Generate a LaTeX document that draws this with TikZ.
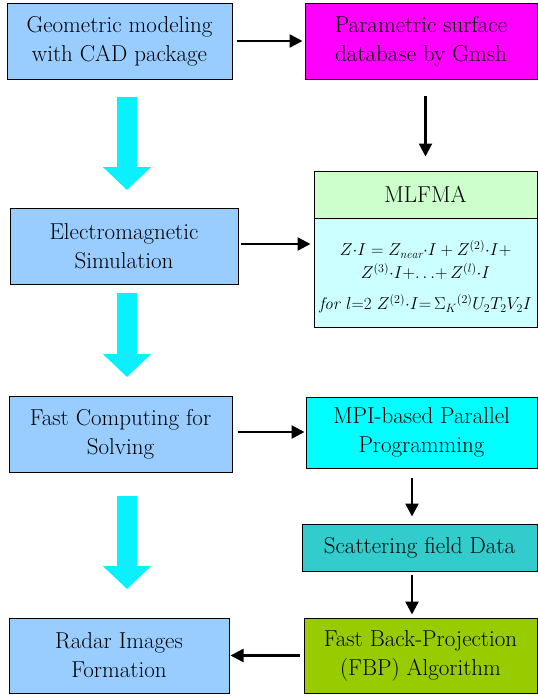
\documentclass[tikz,border=0pt]{standalone}
\usepackage{fontspec}
\usetikzlibrary{arrows.meta}
\definecolor{lblue}{RGB}{153,204,255}
\definecolor{magbox}{RGB}{255,0,255}
\definecolor{mlgreen}{RGB}{204,255,204}
\definecolor{mlcyan}{RGB}{204,255,255}
\definecolor{mpicyan}{RGB}{0,255,255}
\definecolor{scatteal}{RGB}{51,204,204}
\definecolor{fbpgreen}{RGB}{153,204,0}
\definecolor{arrowcyan}{RGB}{10,240,255}
\begin{document}
\begin{tikzpicture}[x=1pt,y=-1pt,
  box/.style={draw=black, line width=1pt, align=center, inner sep=0pt,
    font=\fontsize{23}{29}\selectfont, text=black},
  conn/.style={line width=2.4pt, -{Triangle[length=13pt,width=13pt]}},
  bigarrow/.style={line width=20pt, draw=arrowcyan, -{Triangle[length=23pt,width=47pt]}}]
\useasboundingbox (0,0) rectangle (538,697);

\node[box, fill=lblue, minimum width=225pt, minimum height=76pt] (geo) at (119.5,41) {Geometric modeling\\with CAD package};
\node[box, fill=magbox, minimum width=232pt, minimum height=76pt] (param) at (421,41) {Parametric surface\\database by Gmsh};
\node[box, fill=lblue, minimum width=228pt, minimum height=76pt] (em) at (124,246) {Electromagnetic\\Simulation};
\node[box, fill=mlgreen, minimum width=223pt, minimum height=47pt] (mlT) at (425.5,194.5) {MLFMA};
\node[box, fill=mlcyan, minimum width=223pt, minimum height=109pt] (mlB) at (425.5,272.5) {};
\node[font=\fontsize{17}{23}\selectfont, align=center, inner sep=0pt] (eq) at (425.5,277)
  {$Z{\cdot}I = Z_{\mathit{near}}{\cdot}I + Z^{(2)}{\cdot}I{+}$\\
   $Z^{(3)}{\cdot}I{+}{\ldots}{+}\, Z^{(l)}{\cdot}I$\\[8pt]
   \textit{for} $l$=2 $Z^{(2)}{\cdot}I{=}\, \Sigma_K{}^{(2)}U_2T_2V_2I$};
\node[box, fill=lblue, minimum width=223pt, minimum height=76pt] (fast) at (120.5,434) {Fast Computing for\\Solving};
\node[box, fill=mpicyan, minimum width=231pt, minimum height=71pt] (mpi) at (421.5,432.5) {MPI-based Parallel\\Programming};
\node[box, fill=scatteal, minimum width=235pt, minimum height=47pt] (scat) at (419.5,547.5) {Scattering field Data};
\node[box, fill=fbpgreen, minimum width=233pt, minimum height=75pt] (fbp) at (420.5,655.5) {Fast Back-Projection\\(FBP) Algorithm};
\node[box, fill=lblue, minimum width=220pt, minimum height=75pt] (radar) at (119,655.5) {Radar Images\\Formation};

% black connectors
\draw[conn] ([xshift=4pt]geo.east) -- ([xshift=-2pt]geo.east -| param.west);
\draw[conn] ([yshift=-16pt]param.south -| mlT.north) -- ([yshift=14pt]mlT.north);
\draw[conn] ([xshift=2pt,yshift=2pt]em.east) -- ([xshift=-3pt,yshift=2pt]em.east -| mlB.west);
\draw[conn] ([xshift=5pt,yshift=2pt]fast.east) -- ([xshift=-1pt,yshift=2pt]fast.east -| mpi.west);
\draw[conn] ([xshift=-9.5pt,yshift=-9pt]mpi.south) -- ([xshift=-7.5pt,yshift=7pt]scat.north);
\draw[conn] ([xshift=-7.5pt,yshift=-3pt]scat.south) -- ([xshift=-8.5pt,yshift=3pt]fbp.north);
\draw[conn] ([xshift=-4pt]fbp.west) -- ([xshift=1pt]fbp.west -| radar.east);

% big cyan arrows
\coordinate (c1s) at (127,97);  \coordinate (c1e) at (127,190);
\coordinate (c2s) at (127,293); \coordinate (c2e) at (127,377);
\coordinate (c3s) at (127,496); \coordinate (c3e) at (127,589);
\draw[bigarrow] (c1s) -- (c1e);
\draw[bigarrow] (c2s) -- (c2e);
\draw[bigarrow] (c3s) -- (c3e);
\end{tikzpicture}
\end{document}
